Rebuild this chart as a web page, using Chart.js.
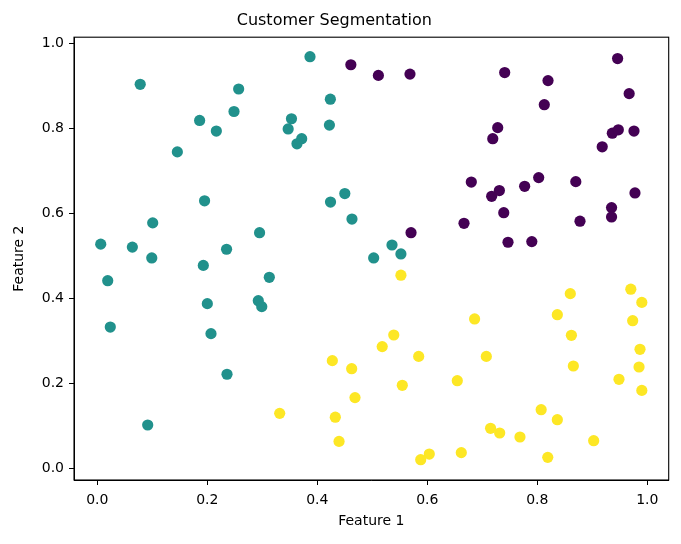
<!DOCTYPE html>
<html>
<head>
<meta charset="utf-8">
<script src="https://cdn.jsdelivr.net/npm/chart.js@4"></script>
<style>
  html, body { margin: 0; padding: 0; background: #fff; }
  #wrap { width: 681px; height: 544px; }
</style>
</head>
<body>
<div id="wrap"><canvas id="c" width="681" height="544"></canvas></div>
<script>
const chartTitle = "Customer Segmentation";
const xAxisTitle = "Feature 1";
const yAxisTitle = "Feature 2";
const tickValues = [0.0, 0.2, 0.4, 0.6, 0.8, 1.0];

const seg0Color = "#440154";
const seg1Color = "#21918c";
const seg2Color = "#fde725";

// Segment 0 (purple)
const seg0X = [0.461, 0.511, 0.5685, 0.7407, 0.8195, 0.946, 0.967, 0.8127, 0.728, 0.719,
  0.9364, 0.9473, 0.9758, 0.918, 0.680, 0.8025, 0.870, 0.777, 0.731, 0.717,
  0.9776, 0.935, 0.935, 0.739, 0.6667, 0.8776, 0.5704, 0.7467, 0.790];
const seg0Y = [0.950, 0.925, 0.928, 0.9316, 0.9127, 0.9645, 0.882, 0.856, 0.802, 0.776,
  0.789, 0.797, 0.794, 0.757, 0.674, 0.6845, 0.675, 0.664, 0.654, 0.6406,
  0.6485, 0.614, 0.592, 0.602, 0.577, 0.582, 0.555, 0.5325, 0.534];

// Segment 1 (teal)
const seg1X = [0.3867, 0.078, 0.257, 0.4237, 0.2485, 0.186, 0.353, 0.2164, 0.347, 0.422,
  0.3716, 0.363, 0.1455, 0.195, 0.424, 0.450, 0.463, 0.1007, 0.295, 0.0062,
  0.0637, 0.235, 0.099, 0.5025, 0.0189, 0.1927, 0.3127, 0.200, 0.2927, 0.299,
  0.0236, 0.2067, 0.2358, 0.0916, 0.5358, 0.552];
const seg1Y = [0.969, 0.904, 0.893, 0.869, 0.840, 0.819, 0.823, 0.794, 0.799, 0.808,
  0.776, 0.764, 0.745, 0.630, 0.627, 0.647, 0.587, 0.578, 0.555, 0.528,
  0.521, 0.516, 0.4955, 0.4955, 0.442, 0.478, 0.450, 0.388, 0.395, 0.381,
  0.333, 0.3175, 0.222, 0.1026, 0.526, 0.505];

// Segment 2 (yellow)
const seg2X = [0.4273, 0.4625, 0.4685, 0.3316, 0.4327, 0.4395, 0.552, 0.860, 0.970, 0.990,
  0.8364, 0.9734, 0.686, 0.862, 0.539, 0.518, 0.5843, 0.7073, 0.9867, 0.985,
  0.8655, 0.5545, 0.6545, 0.9485, 0.990, 0.807, 0.8364, 0.715, 0.7316, 0.7685,
  0.9025, 0.6036, 0.588, 0.6618, 0.819];
const seg2Y = [0.254, 0.235, 0.167, 0.130, 0.121, 0.064, 0.455, 0.4116, 0.422, 0.391,
  0.362, 0.348, 0.352, 0.3136, 0.3143, 0.287, 0.264, 0.264, 0.2807, 0.239,
  0.2414, 0.196, 0.2068, 0.210, 0.184, 0.1386, 0.115, 0.0948, 0.0838, 0.0744,
  0.0657, 0.0343, 0.021, 0.0375, 0.0265];

const xMin = -0.0424, xMax = 1.0389;
const yMin = -0.0268, yMax = 1.0148;

function toPoints(xs, ys) { return xs.map((x, i) => ({ x: x, y: ys[i] })); }

const FONT = "'DejaVu Sans', sans-serif";

const frame = {
  id: 'frame',
  afterDatasetsDraw(chart) {
    const a = chart.chartArea, ctx = chart.ctx;
    ctx.save();
    ctx.strokeStyle = '#000';
    ctx.lineWidth = 1.1;
    ctx.strokeRect(a.left, a.top, a.right - a.left, a.bottom - a.top);
    ctx.restore();
  }
};

function ds(label, xs, ys, color) {
  return {
    label: label,
    data: toPoints(xs, ys),
    backgroundColor: color,
    borderColor: color,
    pointRadius: 5.6,
    pointBorderWidth: 0,
    pointHoverRadius: 5.6
  };
}

new Chart(document.getElementById('c'), {
  type: 'scatter',
  data: {
    datasets: [
      ds('Segment 0', seg0X, seg0Y, seg0Color),
      ds('Segment 1', seg1X, seg1Y, seg1Color),
      ds('Segment 2', seg2X, seg2Y, seg2Color)
    ]
  },
  options: {
    responsive: false,
    animation: false,
    devicePixelRatio: 1,
    layout: { padding: { left: 0, right: 12.3, top: 0, bottom: 0 } },
    plugins: {
      legend: { display: false },
      tooltip: { enabled: false },
      title: {
        display: true,
        text: chartTitle,
        color: '#000',
        font: { family: FONT, size: 16, weight: 'normal' },
        padding: { top: 11, bottom: 7 }
      }
    },
    scales: {
      x: {
        type: 'linear',
        min: xMin, max: xMax,
        afterBuildTicks: (s) => { s.ticks = tickValues.map(v => ({ value: v })); },
        afterFit: (s) => { s.height = 64; },
        grid: { drawOnChartArea: false, drawTicks: true, tickLength: 5, color: '#000', tickWidth: 1 },
        border: { display: true, color: '#000', width: 1 },
        ticks: {
          color: '#000', padding: 7,
          font: { family: FONT, size: 14 },
          maxRotation: 0,
          callback: (v) => Number(v).toFixed(1)
        },
        title: {
          display: true, text: xAxisTitle, color: '#000',
          font: { family: FONT, size: 14 },
          padding: { top: 2, bottom: 14.6 }
        }
      },
      y: {
        type: 'linear',
        min: yMin, max: yMax,
        afterBuildTicks: (s) => { s.ticks = tickValues.map(v => ({ value: v })); },
        afterFit: (s) => { s.width = 74; },
        grid: { drawOnChartArea: false, drawTicks: true, tickLength: 5, color: '#000', tickWidth: 1 },
        border: { display: true, color: '#000', width: 1 },
        ticks: {
          color: '#000', padding: 5,
          font: { family: FONT, size: 14 },
          callback: (v) => Number(v).toFixed(1)
        },
        title: {
          display: true, text: yAxisTitle, color: '#000',
          font: { family: FONT, size: 14 },
          padding: { top: 11, bottom: 4 }
        }
      }
    }
  },
  plugins: [frame]
});
</script>
</body>
</html>
